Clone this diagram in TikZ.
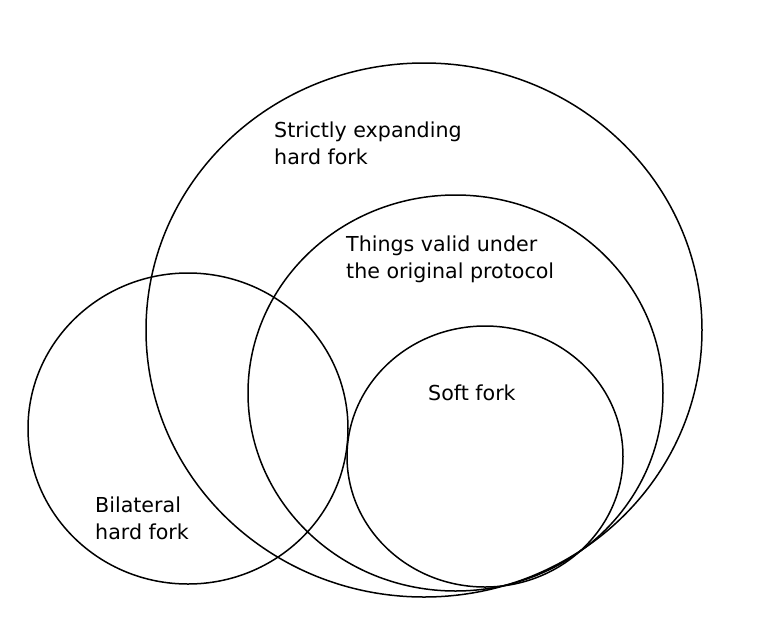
\documentclass[tikz,border=0pt]{standalone}
\usepackage{fontspec}
\setmainfont{DejaVu Sans}
\begin{document}
\begin{tikzpicture}[x=1pt,y=-1pt,
  ring/.style={draw=black,line width=1.5pt},
  lbl/.style={anchor=base west,align=left,inner sep=0pt,font=\fontsize{20.6}{26.5}\selectfont}]
\useasboundingbox (0,0) rectangle (769,633);
\draw[ring] (424,330) ellipse [x radius=278,y radius=267];
\draw[ring] (455.5,393) ellipse [x radius=207.5,y radius=198];
\draw[ring] (485,456.5) ellipse [x radius=138,y radius=130.5];
\draw[ring] (188,428.5) ellipse [x radius=160,y radius=155.5];
\node[lbl] (strict) at (274,164) {Strictly expanding\\hard fork};
\node[lbl] (valid) at (346,278) {Things valid under\\the original protocol};
\node[lbl] (soft) at (428,400) {Soft fork};
\node[lbl] (bilat) at (95,539) {Bilateral\\hard fork};
\end{tikzpicture}
\end{document}
